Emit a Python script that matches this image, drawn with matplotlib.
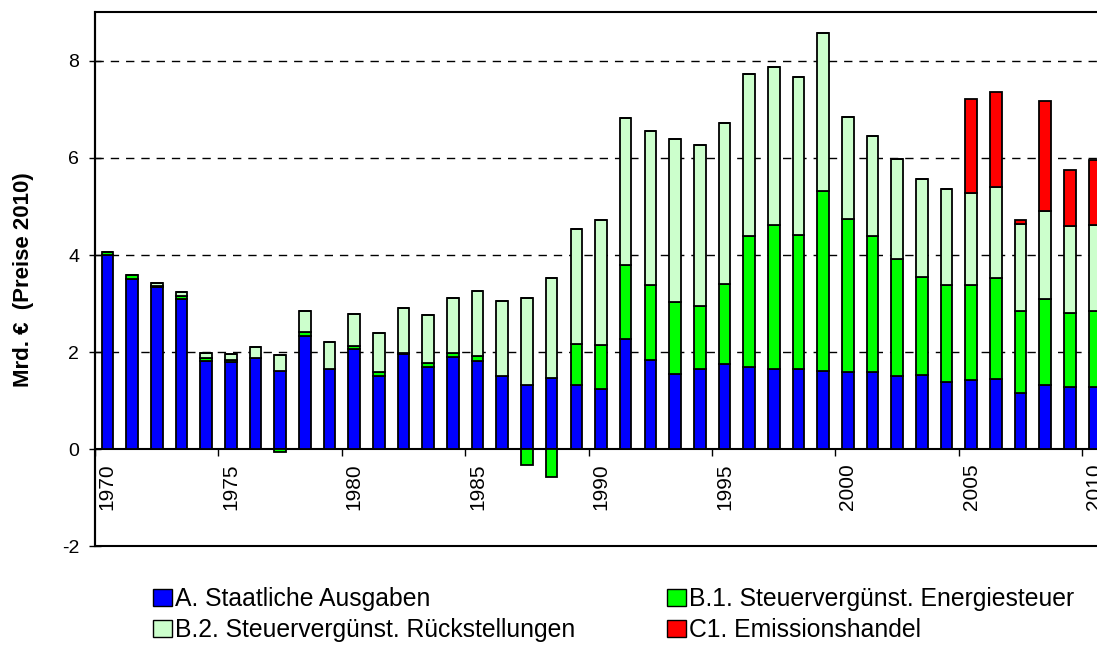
import numpy as np
import matplotlib.pyplot as plt
from matplotlib.patches import Patch

plt.rcParams['font.family'] = ['Liberation Sans', 'DejaVu Sans']

# Jahre und Werte (Mrd. EUR, Preise 2010)
jahre = np.arange(1970, 2011)

staatliche_ausgaben = [4.01, 3.51, 3.34, 3.10, 1.82, 1.79, 1.88, 1.62, 2.34, 1.66,
                       2.07, 1.51, 1.96, 1.70, 1.90, 1.82, 1.50, 1.32, 1.46, 1.33,
                       1.25, 2.27, 1.83, 1.55, 1.65, 1.76, 1.70, 1.65, 1.65, 1.62,
                       1.60, 1.60, 1.51, 1.53, 1.38, 1.42, 1.44, 1.15, 1.33, 1.29,
                       1.29]
energiesteuer = [0.05, 0.07, 0.03, 0.05, 0.06, 0.04, 0.00, -0.06, 0.08, 0.00,
                 0.06, 0.08, 0.03, 0.07, 0.09, 0.09, 0.00, -0.32, -0.57, 0.83,
                 0.89, 1.53, 1.55, 1.49, 1.29, 1.65, 2.69, 2.96, 2.77, 3.70,
                 3.14, 2.79, 2.40, 2.01, 2.01, 1.96, 2.08, 1.69, 1.76, 1.51,
                 1.55]
rueckstellungen = [0.00, 0.00, 0.06, 0.08, 0.11, 0.13, 0.22, 0.32, 0.42, 0.54,
                   0.65, 0.80, 0.91, 0.99, 1.12, 1.34, 1.56, 1.80, 2.06, 2.38,
                   2.59, 3.02, 3.18, 3.34, 3.32, 3.32, 3.33, 3.26, 3.25, 3.25,
                   2.10, 2.07, 2.07, 2.02, 1.97, 1.89, 1.88, 1.80, 1.81, 1.80,
                   1.78]
emissionshandel = [0.0] * 35 + [1.95, 1.96, 0.09, 2.28, 1.15, 1.33]

labels = ['A. Staatliche Ausgaben', 'B.1. Steuervergünst. Energiesteuer',
          'B.2. Steuervergünst. Rückstellungen', 'C1. Emissionshandel']
farben = ['#0000FF', '#00FF00', '#CCFFCC', '#FF0000']

a = np.array(staatliche_ausgaben)
b1 = np.array(energiesteuer)
b2 = np.array(rueckstellungen)
c1 = np.array(emissionshandel)

fig = plt.figure(figsize=(10.97, 6.48), dpi=100)
ax = fig.add_axes([0.0866, 0.157, 0.945, 0.824])

breite = 0.47
kante = dict(edgecolor='black', linewidth=1.3, zorder=3)
ax.bar(jahre, a, breite, color=farben[0], **kante)
b1_boden = np.where(b1 >= 0, a, 0)
ax.bar(jahre, b1, breite, bottom=b1_boden, color=farben[1], **kante)
b2_boden = a + np.clip(b1, 0, None)
ax.bar(jahre, b2, breite, bottom=b2_boden, color=farben[2], **kante)
c1_boden = b2_boden + b2
ax.bar(jahre, c1, breite, bottom=c1_boden, color=farben[3], **kante)

ax.set_xlim(1969.5, 2011.5)
ax.set_ylim(-2, 9)

# Rahmen des Diagramms, x-Achse bei 0
ax.patch.set_edgecolor('black')
ax.patch.set_linewidth(1.5)
ax.spines['bottom'].set_position(('data', 0))
ax.spines['bottom'].set_linewidth(1.5)
for s in ['top', 'right']:
    ax.spines[s].set_visible(False)
ax.spines['left'].set_linewidth(1.5)

# Gitterlinien
for g in [2, 4, 6, 8]:
    ax.axhline(g, color='black', linestyle=(0, (6, 5)), linewidth=1, zorder=1)

ax.set_yticks([-2, 0, 2, 4, 6, 8])
ax.set_yticklabels(['-2', '0', '2', '4', '6', '8'])
ax.tick_params(axis='y', direction='inout', length=9, width=1, labelsize=14, pad=7)

beschriftung = jahre[::5]
ax.set_xticks(beschriftung - 0.5)
ax.set_xticklabels([])
ax.set_xticks(beschriftung, minor=True)
ax.set_xticklabels([str(j) for j in beschriftung], minor=True, rotation=90, va='top')
ax.tick_params(axis='x', which='major', direction='out', length=5, width=1)
ax.tick_params(axis='x', which='minor', length=0, labelsize=15, pad=10)

ax.set_ylabel('Mrd. €  (Preise 2010)', fontsize=16, fontweight='bold', labelpad=20)

handles = [Patch(facecolor=farben[i], edgecolor='black', linewidth=1) for i in range(4)]
reihenfolge = [0, 2, 1, 3]
fig.legend([handles[i] for i in reihenfolge], [labels[i] for i in reihenfolge],
           ncol=2, loc='upper left', bbox_to_anchor=(0.1395, 0.094), frameon=False,
           fontsize=17.8, handlelength=0.75, handleheight=0.7, handletextpad=0.15,
           columnspacing=3.7, labelspacing=0.28, borderpad=0, borderaxespad=0)

fig.savefig('out.png', dpi=100)
